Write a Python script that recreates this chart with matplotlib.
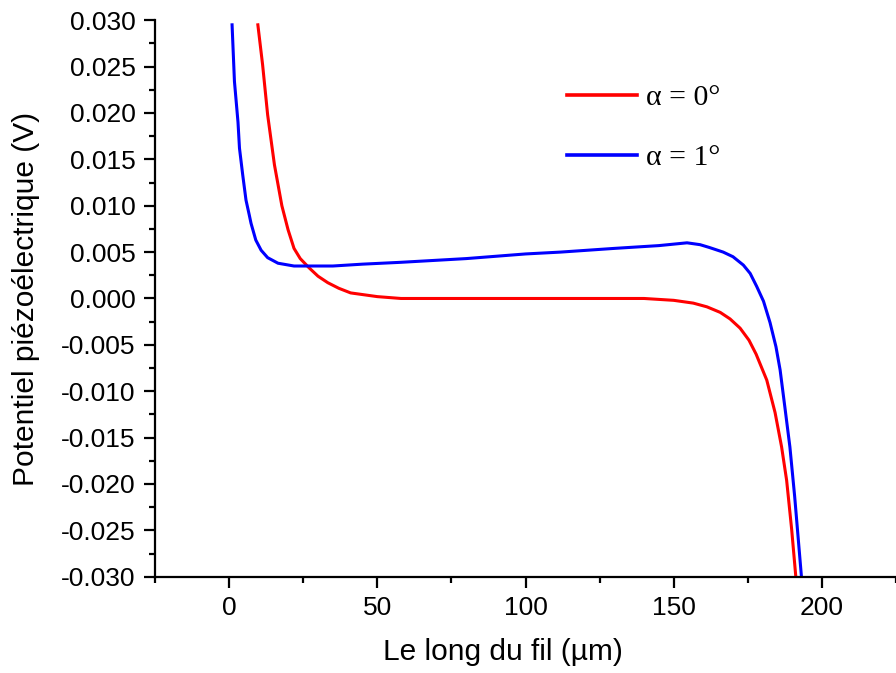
import matplotlib
matplotlib.use('Agg')
import matplotlib.pyplot as plt
from matplotlib.ticker import MultipleLocator, FormatStrFormatter

# values
x_alpha0 = [9.7, 11.3, 13.0, 15.3, 17.8, 19.9, 21.9, 24.0, 27.0, 30.0, 33.3, 37.0,
            41.0, 50.0, 58.0, 80.0, 100.0, 120.0, 140.0, 150.0, 156.6, 161.2,
            165.7, 169.0, 172.4, 175.4, 177.8, 181.4, 184.2, 186.4, 188.1, 189.8, 191.2]
y_alpha0 = [0.0295, 0.0252, 0.0198, 0.0144, 0.0100, 0.0074, 0.0054, 0.0043, 0.0033,
            0.0024, 0.0017, 0.0011, 0.0006, 0.0002, 0.0, 0.0, 0.0, 0.0, 0.0,
            -0.0002, -0.0005, -0.0009, -0.0015, -0.0022, -0.0032, -0.0045, -0.0060,
            -0.0088, -0.0123, -0.0160, -0.0196, -0.0249, -0.0300]

x_alpha1 = [1.0, 1.8, 3.0, 3.5, 4.6, 5.7, 6.8, 7.4, 9.0, 10.8, 13.0, 16.5, 21.9,
            28.0, 35.0, 45.0, 58.0, 80.0, 100.0, 111.8, 130.0, 145.0, 154.5, 158.9,
            162.0, 166.7, 170.0, 173.5, 175.8, 178.0, 180.3, 182.5, 184.5, 185.9,
            187.5, 189.2, 190.8, 193.1]
y_alpha1 = [0.0295, 0.0234, 0.0190, 0.0162, 0.0133, 0.0106, 0.0090, 0.0081, 0.0063,
            0.0052, 0.0044, 0.0038, 0.0035, 0.0035, 0.0035, 0.0037, 0.0039, 0.0043,
            0.0048, 0.0050, 0.0054, 0.0057, 0.0060, 0.0058, 0.0055, 0.0050, 0.0045,
            0.0036, 0.0027, 0.0013, -0.0003, -0.0026, -0.0052, -0.0077, -0.0117,
            -0.0160, -0.0213, -0.0300]

labels = ['α = 0°', 'α = 1°']

plt.rcParams['font.family'] = ['Liberation Sans', 'DejaVu Sans']

fig = plt.figure(figsize=(8.96, 6.73), dpi=100)
ax = fig.add_axes([0.173, 0.143, 0.827, 0.827])

ax.plot(x_alpha0, y_alpha0, color='#ff0000', lw=2.2, label=labels[0])
ax.plot(x_alpha1, y_alpha1, color='#0000ff', lw=2.2, label=labels[1])

ax.set_xlim(-25, 225)
ax.set_ylim(-0.030, 0.030)

ax.xaxis.set_major_locator(MultipleLocator(50))
ax.xaxis.set_minor_locator(MultipleLocator(25))
ax.yaxis.set_major_locator(MultipleLocator(0.005))
ax.yaxis.set_minor_locator(MultipleLocator(0.0025))
ax.yaxis.set_major_formatter(FormatStrFormatter('%.3f'))

for side in ('top', 'right'):
    ax.spines[side].set_visible(False)
for side in ('left', 'bottom'):
    ax.spines[side].set_linewidth(1.6)

ax.tick_params(which='major', direction='out', length=8, width=1.6, labelsize=19, pad=6)
ax.tick_params(which='minor', direction='out', length=4, width=1.6)

ax.set_xlabel('Le long du fil (µm)', fontsize=21.5)
ax.set_ylabel('Potentiel piézoélectrique (V)', fontsize=21.5)
ax.xaxis.set_label_coords(0.47, -0.11)
ax.yaxis.set_label_coords(-0.155, 0.5)

leg = ax.legend(loc='upper left', bbox_to_anchor=(0.536, 0.912), frameon=False,
                handlelength=2.35, handletextpad=0.28, labelspacing=1.12,
                borderpad=0, prop={'family': 'Liberation Serif', 'size': 21.5})
for line in leg.get_lines():
    line.set_linewidth(2.6)

fig.savefig('out.png', dpi=100)
